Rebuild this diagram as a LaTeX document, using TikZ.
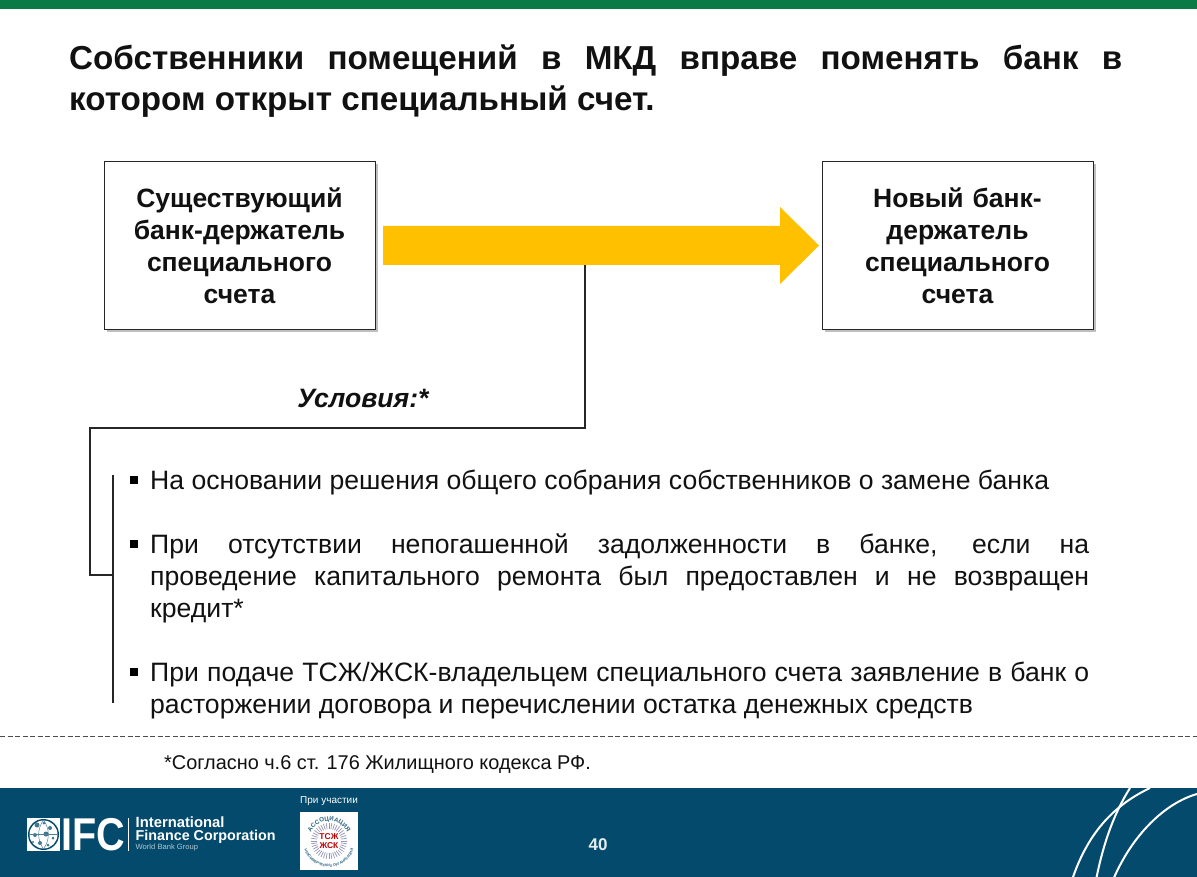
\documentclass[tikz,border=0pt]{standalone}
\usepackage{fontspec}
\setmainfont{Liberation Sans}
\usetikzlibrary{shadows,decorations.text}
\definecolor{topgreen}{HTML}{0B7A45}
\definecolor{footblue}{HTML}{044A6C}
\definecolor{arrowgold}{HTML}{FFC000}
\definecolor{inktext}{HTML}{111111}
\tikzset{
  bankbox/.style={draw=black!85,line width=1pt,fill=white,minimum width=271pt,minimum height=168pt,align=center,text width=240pt,font=\fontsize{26.5}{32}\selectfont\bfseries,text=inktext,inner sep=0pt,
    general shadow={shadow xshift=3pt,shadow yshift=-3pt,fill=black!50,opacity=.5}},
  bodytext/.style={anchor=north west,inner sep=0pt,text width=939pt,align=justify,font=\fontsize{26.6}{32}\selectfont,text=inktext},
  bullet/.style={fill=black,minimum size=8pt,inner sep=0pt},
  linkline/.style={draw=black!85,line width=2pt},
  footwave/.style={draw=white,line width=2pt},
  foottext/.style={text=white,inner sep=0pt,anchor=west}
}
\begin{document}
\begin{tikzpicture}[x=1pt,y=-1pt]
\useasboundingbox (0,0) rectangle (1197,877);
\fill[topgreen] (0,0) rectangle (1197,9);
\fill[footblue] (0,788) rectangle (1197,877);
% title
\node[anchor=north west,inner sep=0pt,text width=1053pt,align=justify,font=\fontsize{33.2}{41}\selectfont\bfseries,text=inktext] (title) at (69,45)
 {Собственники помещений в МКД вправе поменять банк в\linebreak котором открыт специальный счет.};
% boxes
\node[bankbox] (oldbank) at (239.5,245.5) {Существующий\\банк-держатель\\специального\\счета};
\node[bankbox] (newbank) at (957.5,245.5) {Новый банк-\\держатель\\специального\\счета};
% arrow
\fill[arrowgold] (383,226) -- (780,226) -- (780,207) -- (819,245.5) -- (780,284) -- (780,265) -- (383,265) -- cycle;
\coordinate (arrowfoot) at (584.5,265);
\coordinate (c1) at (584.5,428);
\coordinate (c2) at (89.5,428);
\coordinate (c3) at (89.5,575);
\coordinate (c4) at (113,575);
\coordinate (b1) at (113,475);
\coordinate (b2) at (113,703);
\draw[linkline,line join=miter] (arrowfoot) -- (c1) -- (c2) -- (c3) -- (c4);
\draw[linkline] (b1) -- (b2);
\node[font=\fontsize{26.6}{30}\selectfont\bfseries\itshape,text=inktext,inner sep=0pt] (cond) at (363,398) {Условия:*};
% bullets
\node[bullet] (p1) at (133.5,480) {};
\node[bullet] (p2) at (133.5,544) {};
\node[bullet] (p3) at (133.5,672) {};
\node[bodytext] (t1) at (150,470) {На основании решения общего собрания собственников о замене банка};
\node[bodytext] (t2) at (150,534) {При отсутствии непогашенной задолженности в банке, если на\linebreak проведение капитального ремонта был предоставлен и не возвращен\linebreak кредит*};
\node[bodytext] (t3) at (150,662) {При подаче ТСЖ/ЖСК-владельцем специального счета заявление в банк о\linebreak расторжении договора и перечислении остатка денежных средств};
% dashed
\coordinate (d1) at (0,736.5);
\coordinate (d2) at (1197,736.5);
\draw[black!70,line width=1pt,dash pattern=on 5pt off 2.5pt] (d1) -- (d2);
\node[anchor=west,inner sep=0pt,font=\fontsize{19.9}{23}\selectfont,text=inktext] (note) at (164,765) {*Согласно ч.6 ст. 176 Жилищного кодекса РФ.};
% IFC logo
\fill[white] (27,818) rectangle (60,851);
\fill[footblue] (43.5,834.5) circle (15.5);
\fill[white] (43.5,834.5) circle (14);
\begin{scope}
\clip (43.5,834.5) circle (14);
\foreach \x/\y/\r in {37/825/2.5,44/823/1.5,50/828/2,35/835/2,46/834/2.5,53/838/1.5,40/843/2,48/845/1.5,33/842/1.2}
  \fill[footblue!75] (\x,\y) circle (\r);
\draw[footblue!70,line width=.5pt] (43.5,820) to[bend left=35] (43.5,849);
\draw[footblue!70,line width=.5pt] (43.5,820) to[bend right=35] (43.5,849);
\draw[footblue!70,line width=.5pt] (29,834.5) -- (58,834.5);
\end{scope}
\node[foottext,font=\fontsize{46}{46}\selectfont\bfseries,xscale=.86,anchor=west] (ifc) at (61.5,834.5) {IFC};
\fill[white] (128,818) rectangle (129,851);
\node[foottext,font=\fontsize{14.8}{15}\selectfont\bfseries] (l1) at (135.5,822.5) {International};
\node[foottext,font=\fontsize{14.3}{15}\selectfont\bfseries] (l2) at (135.5,836.5) {Finance Corporation};
\node[foottext,font=\fontsize{7.6}{9}\selectfont,text=white!70!footblue] (l3) at (135.5,848) {World Bank Group};
% partner logo
\node[foottext,font=\fontsize{10}{12}\selectfont] (pt) at (300,801) {При участии};
\fill[white] (300,812) rectangle (358,870);
\foreach \a in {0,9,...,351}
  \draw[gray!80!blue!70,line width=.7pt] (329,841) ++(\a:12) -- ++(\a:6);
\fill[white] (319,832) rectangle (339,850);
\node[font=\fontsize{8.5}{9}\selectfont\bfseries,text=red!75!black,align=center,inner sep=0pt] (tsj) at (329,841) {ТСЖ\\ЖСК};
\begin{scope}[shift={(329,841)},y=1pt]
\path[decorate,decoration={text along path,text align=center,text={|\fontsize{6.2}{8}\selectfont\bfseries\color{footblue!85}|АССОЦИАЦИЯ}}] (170:20) arc[start angle=170,end angle=10,radius=20];
\path[decorate,decoration={text along path,text align=center,text={|\fontsize{3.6}{4}\selectfont\bfseries\color{footblue!85}|НЕКОММЕРЧЕСКИХ ОРГАНИЗАЦИЙ}}] (-178:26) arc[start angle=-178,end angle=-2,radius=26];
\end{scope}
% page number
\node[font=\fontsize{17}{20}\selectfont\bfseries,text=white!90!footblue,inner sep=0pt] (page) at (598,845) {40};
% waves
\begin{scope}
\clip (0,788) rectangle (1197,877);
\draw[footwave] (1150,788) .. controls (1112,806) and (1087,835) .. (1072,880);
\draw[footwave] (1130,788) .. controls (1113,815) and (1103,845) .. (1096,880);
\draw[footwave] (1197,794) .. controls (1165,803) and (1132,835) .. (1113,880);
\end{scope}
\end{tikzpicture}
\end{document}
